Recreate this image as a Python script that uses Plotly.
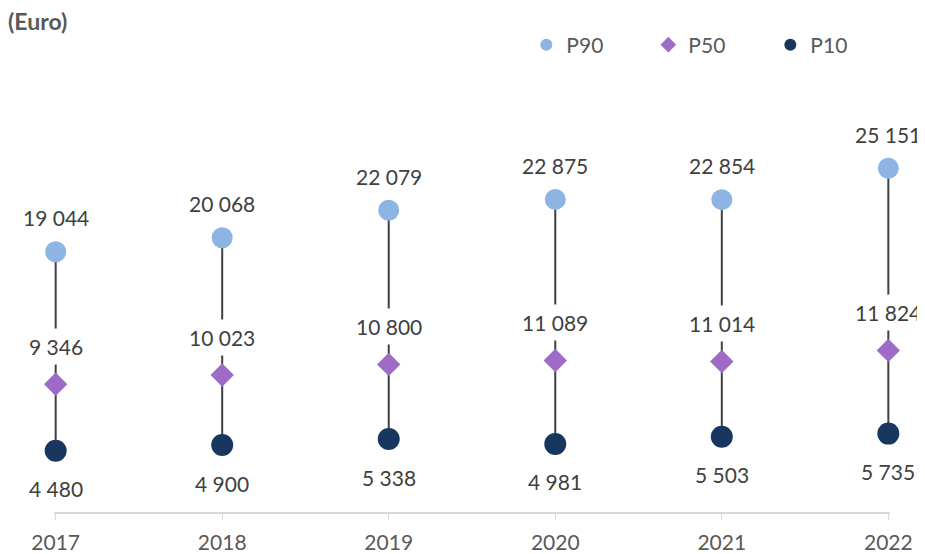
import plotly.graph_objects as go

years = [2017, 2018, 2019, 2020, 2021, 2022]
p90 = [19044, 20068, 22079, 22875, 22854, 25151]
p50 = [9346, 10023, 10800, 11089, 11014, 11824]
p10 = [4480, 4900, 5338, 4981, 5503, 5735]

FONT = "Lato"
LABEL_COLOR = "#404040"
AXIS_TEXT = "#595959"


def fmt(v):
    return f"{v:,}".replace(",", " ")


fig = go.Figure()

# vertical range lines P10 -> P90
line_x, line_y = [], []
for yr, lo, hi in zip(years, p10, p90):
    line_x += [yr, yr, None]
    line_y += [lo, hi, None]
fig.add_trace(go.Scatter(
    x=line_x, y=line_y, mode="lines",
    line=dict(color="#404040", width=2),
    showlegend=False, hoverinfo="skip",
))

series = [
    ("P90", p90, "circle", "#8DB4E2", 21),
    ("P50", p50, "diamond", "#9E6CC7", 18),
    ("P10", p10, "circle", "#17375E", 22),
]
for name, vals, sym, col, size in series:
    fig.add_trace(go.Scatter(
        x=years, y=vals, mode="markers", name=name,
        marker=dict(symbol=sym, color=col, size=size),
        cliponaxis=False,
    ))

# data labels
lab_font = dict(size=21, color=LABEL_COLOR, family=FONT)
for yr, v in zip(years, p90):
    fig.add_annotation(x=yr, y=v, text=fmt(v), showarrow=False, yshift=34,
                       font=lab_font)
for yr, v in zip(years, p50):
    fig.add_annotation(x=yr, y=v, text=fmt(v), showarrow=False, yshift=38,
                       bgcolor="white", borderpad=5, font=lab_font)
for yr, v in zip(years, p10):
    fig.add_annotation(x=yr, y=v, text=fmt(v), showarrow=False, yshift=-38,
                       font=lab_font)

# page body has an 8px margin, so the figure is sized to fit inside it
fig.update_layout(
    width=917, height=546,
    margin=dict(l=46, r=35, t=94, b=42, autoexpand=False),
    plot_bgcolor="white", paper_bgcolor="white",
    font=dict(family=FONT, color=AXIS_TEXT),
    title=dict(text="<b>(Euro)</b>", x=0, xanchor="left",
               y=1 - 14 / 546, yanchor="middle",
               font=dict(size=23, color=AXIS_TEXT, family=FONT)),
    legend=dict(orientation="h", x=0.565, xanchor="left", y=1.139, yanchor="middle",
                itemsizing="constant", entrywidth=77,
                font=dict(size=21, color=AXIS_TEXT, family=FONT)),
    xaxis=dict(range=[2017 - 0.01, 2022 + 0.01], tickvals=years,
               showgrid=False, zeroline=False, showline=True,
               linecolor="#D9D9D9", linewidth=1.5,
               ticks="outside", ticklen=6, tickcolor="#D9D9D9",
               ticklabelstandoff=5,
               tickfont=dict(size=21, color=AXIS_TEXT, family=FONT)),
    yaxis=dict(range=[0, 30000], visible=False),
    showlegend=True,
)

fig.write_html("out.html")
